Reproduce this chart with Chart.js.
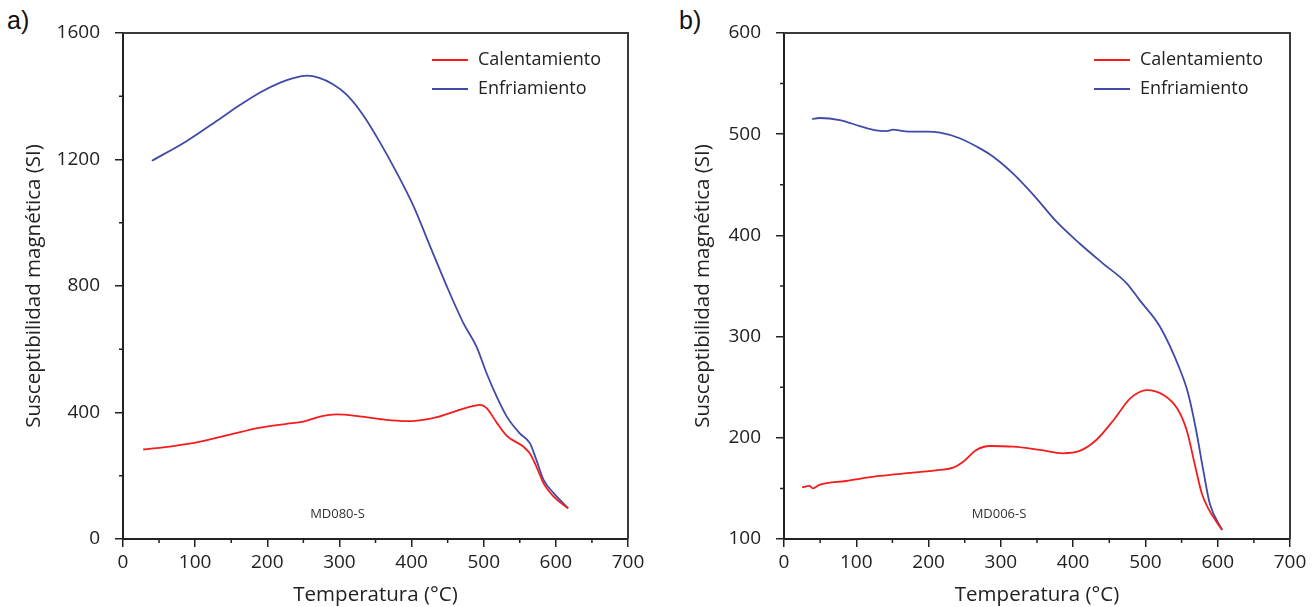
<!DOCTYPE html>
<html>
<head>
<meta charset="utf-8">
<script src="https://cdn.jsdelivr.net/npm/chart.js@4.4.1/dist/chart.umd.min.js"></script>
<style>
    body { margin: 0; background: #fff; width: 1315px; height: 607px; overflow: hidden; position: relative; }
    .panel { position: absolute; top: 0; height: 607px; }
    .tag { position: absolute; top: 6px; font-family: "Liberation Sans", Arial, sans-serif; font-size: 25px; color: #111; }
</style>
</head>
<body>
<div class="tag" style="left:7px">a)</div>
<div class="tag" style="left:679px">b)</div>
<div class="panel" style="left:0;width:660px"><canvas id="chartA" width="660" height="607"></canvas></div>
<div class="panel" style="left:660px;width:655px"><canvas id="chartB" width="655" height="607"></canvas></div>
<script>
// --- panel a) MD080-S ---
const tempA_heat = [28, 70, 107, 148, 190, 227, 250, 273, 296, 328, 361, 393, 402, 435, 472, 495, 504, 518, 532, 555, 564, 573, 583, 597, 617];
const suscA_heat = [283, 294, 308, 330, 352, 364, 371, 387, 394, 388, 378, 373, 373, 385, 412, 424, 414, 368, 326, 292, 270, 229, 176, 134, 97];
const tempA_cool = [40, 88, 135, 162, 190, 218, 236, 255, 272, 291, 310, 333, 356, 379, 403, 426, 449, 472, 490, 504, 518, 532, 550, 564, 573, 583, 597, 617];
const suscA_cool = [1196, 1258, 1330, 1372, 1412, 1443, 1457, 1465, 1458, 1438, 1405, 1340, 1255, 1160, 1051, 924, 798, 682, 608, 524, 450, 387, 334, 303, 250, 187, 145, 97];

// --- panel b) MD006-S ---
const tempB_heat = [25, 35, 40, 49, 86, 132, 178, 215, 234, 248, 266, 285, 317, 354, 386, 409, 432, 456, 479, 502, 525, 544, 557, 569, 578, 588, 606];
const suscB_heat = [151, 152.4, 150, 153.4, 157.3, 162.3, 165.5, 168.2, 170.5, 176.4, 188, 191.9, 191.2, 188, 184.7, 187, 197.8, 217.6, 239, 247.2, 242.3, 229, 207.7, 171.4, 145, 128.7, 109];
const tempB_cool = [39, 49, 77, 105, 125, 142, 151, 165, 179, 197, 216, 243, 271, 289, 317, 345, 377, 409, 441, 474, 492, 520, 548, 559, 570, 580, 589, 606];
const suscB_cool = [515, 516, 514, 508, 504, 503, 504.5, 503, 502.5, 502.5, 501.5, 496, 486, 478, 461, 440, 413.5, 392, 372.4, 352.7, 336, 310, 267, 244, 208, 168, 135, 109];

const seriesNames = ['Calentamiento', 'Enfriamiento'];
const seriesColors = ['#f41c1c', '#4149a9'];
const xTicks = [0, 700, 100];      // min, max, step
const yTicksA = [0, 1600, 400];
const yTicksB = [100, 600, 100];

const FONT = '"Open Sans", "Noto Sans", sans-serif';

function toPoints(xs, ys) {
    return xs.map((x, i) => ({ x: x, y: ys[i] }));
}

// box + minor ticks + legend + sample name
const framePlugin = {
    id: 'frame',
    afterDraw(chart, args, opts) {
        const { ctx, chartArea: a, scales } = chart;
        ctx.save();
        ctx.strokeStyle = '#3a3a3a';
        ctx.lineWidth = 2;
        ctx.beginPath();
        ctx.moveTo(a.left, a.top);
        ctx.lineTo(a.right, a.top);
        ctx.lineTo(a.right, a.bottom);
        ctx.stroke();

        // minor ticks (outside)
        ctx.strokeStyle = '#222';
        ctx.lineWidth = 1.5;
        ctx.beginPath();
        for (let v = scales.x.min + opts.xMinor; v < scales.x.max; v += opts.xMinor * 2) {
            const px = scales.x.getPixelForValue(v);
            ctx.moveTo(px, a.bottom);
            ctx.lineTo(px, a.bottom + 4);
        }
        for (let v = scales.y.min + opts.yMinor; v < scales.y.max; v += opts.yMinor * 2) {
            const py = scales.y.getPixelForValue(v);
            ctx.moveTo(a.left, py);
            ctx.lineTo(a.left - 4, py);
        }
        ctx.stroke();

        // legend
        ctx.font = '18px ' + FONT;
        ctx.textBaseline = 'middle';
        ctx.textAlign = 'left';
        chart.data.datasets.forEach((ds, i) => {
            const y = a.top + 27 + i * 29;
            const x0 = a.right - 196;
            ctx.strokeStyle = ds.borderColor;
            ctx.lineWidth = 2;
            ctx.beginPath();
            ctx.moveTo(x0, y);
            ctx.lineTo(x0 + 36, y);
            ctx.stroke();
            ctx.fillStyle = '#222';
            ctx.fillText(ds.label, x0 + 46, y);
        });

        // sample name
        ctx.font = '13px ' + FONT;
        ctx.fillStyle = '#333';
        ctx.textAlign = 'center';
        ctx.fillText(opts.sample, (a.left + a.right) / 2 - 38, a.bottom - 25);
        ctx.restore();
    }
};

function makeChart(id, heat, cool, yTicks, yMinor, yWidth, yTitlePad, rightPad, sample) {
    const tickFont = { family: FONT, size: 19 };
    const titleFont = { family: FONT, size: 20.5 };
    return new Chart(document.getElementById(id), {
        type: 'line',
        data: {
            datasets: [
                { label: seriesNames[0], data: heat, borderColor: seriesColors[0], borderWidth: 1.8 },
                { label: seriesNames[1], data: cool, borderColor: seriesColors[1], borderWidth: 1.8 }
            ]
        },
        options: {
            responsive: false,
            animation: false,
            layout: { padding: { left: 0, top: 33, right: rightPad, bottom: 0 } },
            elements: { point: { radius: 0 }, line: { cubicInterpolationMode: 'monotone', fill: false } },
            plugins: {
                legend: { display: false },
                tooltip: { enabled: false },
                frame: { xMinor: 50, yMinor: yMinor, sample: sample }
            },
            scales: {
                x: {
                    type: 'linear',
                    min: xTicks[0], max: xTicks[1],
                    afterFit: s => { s.height = 68; },
                    ticks: { stepSize: xTicks[2], color: '#222', font: tickFont, padding: 4, maxRotation: 0, format: { useGrouping: false } },
                    grid: { drawOnChartArea: false, tickLength: 8, color: '#222', lineWidth: 1.5 },
                    border: { color: '#222', width: 2 },
                    title: { display: true, text: 'Temperatura (°C)', color: '#222', font: titleFont, padding: { top: 0, bottom: 0 } }
                },
                y: {
                    min: yTicks[0], max: yTicks[1],
                    afterFit: s => { s.width = yWidth; },
                    ticks: { stepSize: yTicks[2], color: '#222', font: tickFont, padding: 15, format: { useGrouping: false } },
                    grid: { drawOnChartArea: false, tickLength: 8, color: '#222', lineWidth: 1.5 },
                    border: { color: '#222', width: 2 },
                    title: { display: true, text: 'Susceptibilidad magnética (SI)', color: '#222', font: titleFont, padding: { top: yTitlePad, bottom: 0 } }
                }
            }
        },
        plugins: [framePlugin]
    });
}

makeChart('chartA', toPoints(tempA_heat, suscA_heat), toPoints(tempA_cool, suscA_cool), yTicksA, 200, 123, 22, 32, 'MD080-S');
makeChart('chartB', toPoints(tempB_heat, suscB_heat), toPoints(tempB_cool, suscB_cool), yTicksB, 50, 124, 31, 25, 'MD006-S');
</script>
</body>
</html>
